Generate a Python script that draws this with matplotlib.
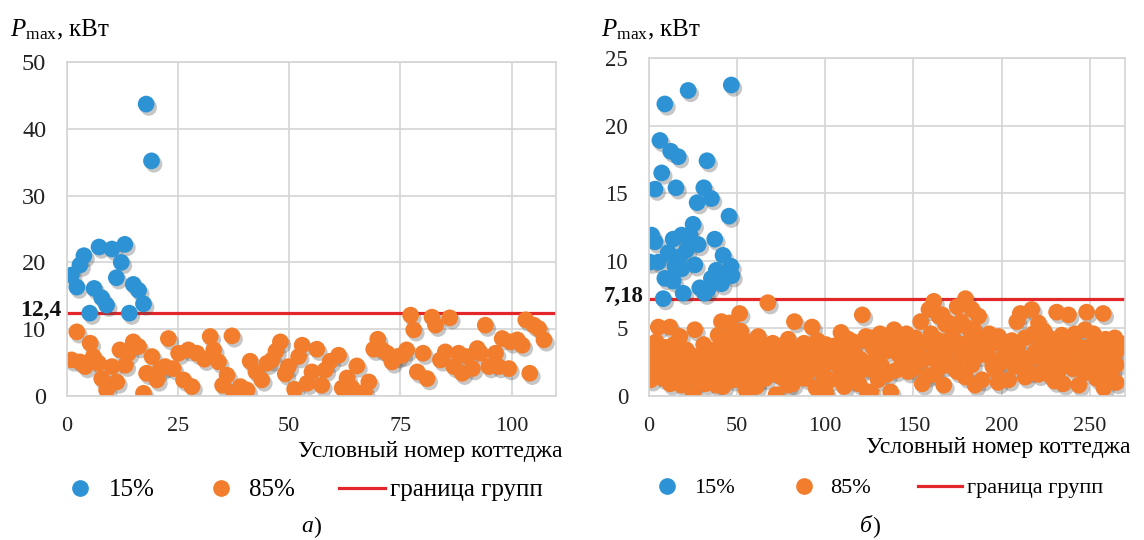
import matplotlib.pyplot as plt
import matplotlib.patheffects as pe
from matplotlib.lines import Line2D
import numpy as np

plt.rcParams['font.family'] = ['Liberation Serif', 'DejaVu Serif']
plt.rcParams['mathtext.fontset'] = 'custom'
plt.rcParams['mathtext.rm'] = 'Liberation Serif'
plt.rcParams['mathtext.it'] = 'Liberation Serif:italic'

# ---- panel а) ----
a_pts15 = [(1.0, 18.1), (2.2, 16.3), (2.9, 19.6), (3.8, 21.0), (5.1, 12.4), (6.1, 16.1),
           (7.2, 22.3), (7.8, 14.7), (8.9, 13.6), (10.1, 22.0), (11.1, 17.7), (12.2, 20.0),
           (13.0, 22.7), (14.0, 12.4), (14.9, 16.7), (16.1, 15.8), (17.2, 13.8),
           (17.8, 43.7), (19.0, 35.2)]
a_pts85 = [(1.0, 5.4), (2.2, 9.6), (2.9, 5.1), (4.1, 4.4), (5.2, 7.9), (5.9, 5.9), (7.1, 4.9),
           (7.8, 2.6), (8.9, 0.9), (10.1, 4.4), (11.2, 2.1), (11.9, 6.9), (13.1, 4.6),
           (13.8, 6.4), (14.9, 8.1), (16.1, 7.4), (17.2, 0.4), (17.9, 3.4), (19.1, 5.9),
           (20.2, 2.4), (20.9, 3.9), (22.1, 4.4), (22.8, 8.6), (23.9, 4.1), (25.1, 6.4),
           (26.2, 2.4), (27.3, 6.9), (28.1, 1.4), (29.2, 6.4), (30.9, 5.5), (32.2, 8.9),
           (33.0, 6.9), (34.1, 5.1), (35.0, 1.6), (36.0, 3.1), (37.1, 9.0), (37.5, 0.4),
           (39.0, 1.4), (40.5, 0.9), (41.2, 5.2), (42.5, 3.6), (43.8, 2.4), (45.0, 4.9),
           (46.1, 5.4), (47.0, 6.7), (48.0, 8.1), (49.1, 3.3), (49.8, 4.4), (51.2, 1.0),
           (52.1, 5.9), (52.9, 7.6), (54.0, 1.9), (55.1, 3.6), (56.2, 7.0), (57.3, 1.6),
           (58.1, 3.9), (59.2, 5.2), (61.1, 6.1), (61.9, 1.2), (63.0, 2.7), (64.1, 1.2),
           (65.2, 4.5), (66.9, 0.6), (67.9, 2.1), (69.0, 7.0), (69.9, 8.5), (70.9, 6.9),
           (72.0, 6.4), (73.1, 5.1), (74.3, 5.9), (75.4, 6.1), (76.4, 6.9), (77.3, 12.1),
           (78.0, 9.9), (78.8, 3.6), (80.1, 6.4), (81.0, 2.6), (82.1, 11.8), (82.9, 10.6),
           (84.0, 5.4), (85.1, 6.6), (86.1, 11.7), (87.0, 4.4), (88.1, 6.4), (88.9, 3.4),
           (90.0, 5.9), (91.2, 4.1), (92.3, 7.1), (93.0, 6.4), (94.1, 10.6), (94.9, 4.4),
           (96.4, 6.4), (97.1, 4.4), (97.9, 8.6), (99.4, 4.1), (99.8, 8.1), (101.3, 8.4),
           (102.4, 7.6), (103.2, 11.4), (104.1, 3.4), (105.0, 10.6), (106.1, 10.1),
           (107.3, 8.4)]
a_limit = 12.4
a_limit_label = '12,4'
a_xticks = [0, 25, 50, 75, 100]
a_yticks = [0, 10, 20, 30, 40, 50]

# ---- panel б) ----
b_pts15 = [(9.0, 21.6), (22.2, 22.6), (46.7, 23.0), (6.2, 18.9), (12.3, 18.1), (16.6, 17.7),
           (32.9, 17.4), (7.2, 16.5), (3.4, 15.3), (15.3, 15.4), (31.1, 15.4), (35.4, 14.6),
           (27.3, 14.3), (45.4, 13.3), (25.0, 12.7), (1.5, 11.9), (3.4, 11.4), (13.7, 11.6),
           (18.5, 11.9), (23.2, 11.9), (27.9, 11.2), (37.3, 11.6), (21.3, 10.8), (10.9, 10.6),
           (0.6, 9.9), (5.3, 9.9), (17.5, 10.3), (26.0, 9.7), (42.0, 10.4), (14.7, 9.6),
           (18.5, 9.4), (38.2, 9.3), (44.8, 9.2), (9.0, 8.7), (13.7, 8.5), (35.4, 8.7),
           (41.1, 8.3), (28.8, 8.0), (33.5, 7.9), (8.1, 7.2), (19.4, 7.6), (31.6, 7.6),
           (46.5, 9.6), (47.0, 8.9)]
b_pts85 = [(67.4, 6.9), (51.4, 6.1), (82.5, 5.5), (92.5, 5.1), (108.9, 4.7), (121.0, 6.0),
           (5.3, 5.1), (11.9, 5.1), (26.0, 4.9), (41.1, 5.5), (45.8, 5.4), (17.5, 4.4),
           (39.2, 4.5), (46.7, 4.5), (57.1, 4.0), (70.2, 3.9), (76.8, 3.8), (95.6, 4.1),
           (100.4, 3.8), (105.1, 3.7), (2.4, 3.8), (41.1, 3.7), (47.6, 3.5), (21.3, 3.4),
           (0.6, 2.9), (7.2, 3.0), (13.7, 2.8), (29.8, 3.0), (36.3, 2.7), (51.4, 2.9),
           (60.8, 3.0), (66.5, 2.5), (73.0, 2.9), (87.2, 2.8), (90.0, 3.4), (104.1, 2.5),
           (117.3, 3.0), (122.0, 4.1), (3.4, 2.2), (10.0, 1.9), (17.5, 2.3), (20.3, 1.8),
           (33.5, 2.2), (45.8, 1.9), (50.5, 2.2), (58.0, 2.4), (63.7, 2.2), (70.2, 1.8),
           (77.8, 1.9), (85.3, 1.9), (97.6, 1.9), (112.6, 2.3), (120.2, 1.9), (8.1, 1.3),
           (18.5, 0.8), (25.0, 0.2), (38.2, 0.8), (53.3, 1.1), (60.8, 0.7), (72.1, 0.1),
           (78.7, 0.8), (94.7, 0.6), (100.4, 0.2), (123.9, 0.3),
           (10.0, 3.2), (42.0, 3.4), (55.2, 3.7), (6.2, 2.4), (15.6, 2.3), (25.0, 2.4),
           (40.1, 2.5), (49.5, 2.4), (12.8, 1.6), (19.4, 1.3), (27.9, 1.1), (36.3, 1.4),
           (44.8, 1.7), (54.2, 1.3), (63.7, 1.6), (55.2, 0.4), (42.0, 0.7), (3.4, 1.7),
           (161.6, 7.0), (158.8, 6.4), (154.1, 5.5), (179.5, 7.2), (174.8, 6.6), (166.3, 6.0),
           (183.2, 6.4), (187.0, 5.9), (170.0, 5.4), (181.4, 5.0), (210.6, 6.1), (217.1, 6.4),
           (220.9, 5.4), (208.6, 5.5), (231.2, 6.2), (237.9, 6.0), (248.2, 6.2), (257.6, 6.1),
           (247.3, 4.9), (241.6, 4.6), (264.2, 4.3), (139.0, 4.9), (123.0, 4.4), (130.5, 4.1),
           (143.7, 4.1), (153.1, 3.7), (164.4, 4.1), (171.9, 4.4), (181.4, 4.0), (190.8, 3.9),
           (198.3, 4.4), (205.8, 4.1), (213.4, 4.3), (226.6, 4.3), (234.1, 4.5), (254.8, 3.9),
           (261.4, 3.7), (55.2, 3.0), (64.6, 3.2), (69.3, 2.7), (91.0, 2.7), (101.3, 2.9),
           (120.2, 2.7), (128.6, 2.8), (134.3, 3.3), (149.3, 3.0), (155.9, 2.7), (162.5, 3.3),
           (176.7, 2.8), (187.0, 3.0), (194.5, 2.7), (202.1, 3.2), (211.5, 2.8), (219.1, 3.3),
           (228.4, 2.9), (236.9, 3.2), (245.4, 2.7), (251.0, 3.2), (260.5, 2.8), (58.9, 1.9),
           (74.0, 2.0), (84.3, 1.8), (92.8, 2.0), (107.9, 2.2), (113.6, 1.7), (124.9, 2.0),
           (140.0, 1.9), (145.6, 2.3), (166.3, 2.2), (174.8, 1.8), (183.2, 2.3), (196.4, 1.9),
           (207.7, 2.2), (215.3, 1.8), (225.6, 2.2), (232.2, 1.8), (240.7, 2.0), (247.3, 1.7),
           (256.7, 2.0), (262.3, 1.9), (60.8, 1.1), (110.7, 0.7), (125.8, 0.3), (137.1, 0.3),
           (155.0, 0.9), (167.2, 0.8), (188.9, 1.2), (204.0, 1.2), (243.8, 0.8), (253.8, 1.3),
           (261.4, 1.4), (213.4, 1.4), (220.9, 1.6), (179.5, 1.4), (81.5, 0.9),
           (164.4, 5.9), (168.2, 5.3), (173.8, 5.1), (184.2, 4.9),
           (146.0, 4.6), (148.0, 3.8), (135.0, 4.0), (127.0, 3.6), (132.0, 2.2), (142.0, 3.0),
           (150.0, 2.0), (158.0, 1.5), (170.0, 3.6), (178.0, 3.4), (192.0, 3.3), (199.0, 2.4),
           (206.0, 3.6), (214.0, 2.4), (222.0, 3.8), (230.0, 3.5), (238.0, 2.5), (243.0, 3.7),
           (250.0, 2.4), (257.0, 3.0), (265.0, 3.3), (265.0, 2.3), (110.0, 3.0), (113.0, 4.2),
           (97.0, 3.3), (88.0, 3.9), (80.0, 3.1), (84.0, 2.5), (115.0, 1.2), (130.0, 1.2),
           (119.0, 0.9), (135.0, 1.6), (162.0, 1.6), (185.0, 0.8), (198.0, 1.0), (230.0, 1.1),
           (235.0, 0.9), (265.0, 1.0), (258.0, 0.6),
           (1.0, 1.2), (2.0, 3.2), (4.0, 4.0), (5.0, 2.8), (8.0, 2.2), (9.0, 3.6), (11.0, 2.6),
           (12.0, 0.9), (14.0, 3.8), (16.0, 1.2), (19.0, 2.8), (22.0, 2.1), (23.0, 1.4),
           (24.0, 3.0), (28.0, 2.6), (30.0, 1.8), (31.0, 3.8), (32.0, 0.9), (34.0, 3.0),
           (35.0, 1.9), (37.0, 3.4), (39.0, 2.0), (43.0, 2.6), (44.0, 4.3), (46.0, 3.0),
           (48.0, 1.2), (49.0, 4.0), (50.0, 3.3), (52.0, 4.8), (53.0, 2.0), (56.0, 1.8),
           (57.0, 2.6), (59.0, 3.5), (62.0, 4.4), (65.0, 3.8), (66.0, 1.3), (68.0, 3.5),
           (71.0, 3.2), (75.0, 1.4), (76.0, 2.6), (79.0, 4.2), (82.0, 3.4), (86.0, 3.0),
           (89.0, 1.3), (93.0, 3.0), (96.0, 2.5), (99.0, 1.5), (102.0, 3.3), (103.0, 1.2),
           (106.0, 2.9), (109.0, 3.4), (111.0, 1.7), (114.0, 2.6), (116.0, 4.0), (118.0, 2.3),
           (126.0, 4.3), (129.0, 3.5), (131.0, 4.6), (137.0, 3.6), (141.0, 4.4), (144.0, 2.9),
           (147.0, 1.8), (151.0, 4.3), (152.0, 2.5), (157.0, 3.9), (160.0, 4.6), (163.0, 2.6),
           (168.0, 3.2), (172.0, 2.2), (175.0, 3.9), (177.0, 5.5), (180.0, 3.1), (186.0, 4.1),
           (189.0, 3.5), (193.0, 4.6), (195.0, 2.2), (200.0, 3.8), (203.0, 2.6), (209.0, 3.5),
           (217.0, 2.9), (218.0, 4.6), (223.0, 2.7), (224.0, 4.8), (227.0, 1.6), (229.0, 4.0),
           (233.0, 2.6), (236.0, 4.2), (239.0, 3.6), (242.0, 2.3), (249.0, 3.6), (252.0, 4.6),
           (253.0, 2.0), (259.0, 4.2), (263.0, 3.0), (267.0, 3.9)]
b_limit = 7.18
b_limit_label = '7,18'
b_xticks = [0, 50, 100, 150, 200, 250]
b_yticks = [0, 5, 10, 15, 20, 25]

labels = ['15%', '85%', 'граница групп']
xlabel = 'Условный номер коттеджа'

BLUE = '#2e93d5'
ORANGE = '#f27d2d'
RED = '#e3262a'
GRID = '#d4d4d4'

shadow = [pe.SimplePatchShadow(offset=(1.8, -2.4), shadow_rgbFace='#444444', alpha=0.3),
          pe.Normal()]


def panel(ax, pts15, pts85, limit, limit_label, xticks, yticks, xmax, ymax,
          ytick_size, limit_size):
    ax.axhline(limit, color=RED, lw=2.3, zorder=1.5)
    for pts, col in ((pts85, ORANGE), (pts15, BLUE)):
        xy = np.array(pts)
        sc = ax.scatter(xy[:, 0], xy[:, 1], s=145, color=col, linewidths=0, zorder=2)
        sc.set_path_effects(shadow)
    ax.set_xlim(0, xmax)
    ax.set_ylim(0, ymax)
    ax.set_xticks(xticks)
    ax.set_yticks(yticks)
    ax.grid(True, color=GRID, lw=1.2)
    ax.set_axisbelow(True)
    for s in ax.spines.values():
        s.set_color(GRID)
        s.set_linewidth(1.2)
    ax.tick_params(axis='both', length=0, colors='#222222')
    ax.tick_params(axis='y', labelsize=ytick_size, pad=15)
    ax.tick_params(axis='x', labelsize=16, pad=15)
    ax.annotate(limit_label, xy=(0, limit), xycoords=ax.get_yaxis_transform(),
                xytext=(-4, 2), textcoords='offset points',
                ha='right', va='center', fontsize=limit_size, fontweight='bold',
                color='#111111')


fig = plt.figure(figsize=(11.44, 5.4), dpi=100)
ax1 = fig.add_axes([0.0586, 0.2667, 0.4274, 0.6185])
ax2 = fig.add_axes([0.5673, 0.2667, 0.4161, 0.6259])

panel(ax1, a_pts15, a_pts85, a_limit, a_limit_label, a_xticks, a_yticks, 110, 50, 17.5, 17)
panel(ax2, b_pts15, b_pts85, b_limit, b_limit_label, b_xticks, b_yticks, 270, 25, 16.5, 16.5)

ylab = r'$P_{\mathregular{max}}$, кВт'
fig.text(0.009, 1 - 30 / 540, ylab, fontsize=18, va='center', ha='left')
fig.text(0.525, 1 - 30 / 540, ylab, fontsize=18, va='center', ha='left')

fig.text(562 / 1144, 1 - 451 / 540, xlabel, fontsize=17, ha='right', va='center')
fig.text(1131 / 1144, 1 - 448 / 540, xlabel, fontsize=17, ha='right', va='center')

handles = [Line2D([], [], marker='o', ls='none', color=BLUE, markersize=11),
           Line2D([], [], marker='o', ls='none', color=ORANGE, markersize=11),
           Line2D([], [], color=RED, lw=2.3)]
fig.legend(handles, labels, loc='center', bbox_to_anchor=(300 / 1144, 1 - 490 / 540),
           ncol=3, frameon=False, fontsize=18, handlelength=1.85, handletextpad=0.2,
           columnspacing=1.75)
fig.legend(handles, labels, loc='center', bbox_to_anchor=(874 / 1144, 1 - 488 / 540),
           ncol=3, frameon=False, fontsize=16, handlelength=2.0, handletextpad=0.2,
           columnspacing=2.1)

for cx, letter in ((313 / 1144, 'а'), (872 / 1144, 'б')):
    fig.text(cx, 1 - 527 / 540, letter, fontsize=17, style='italic', ha='right', va='center')
    fig.text(cx, 1 - 527 / 540, ')', fontsize=17, ha='left', va='center')

fig.savefig('out.png', dpi=100)
